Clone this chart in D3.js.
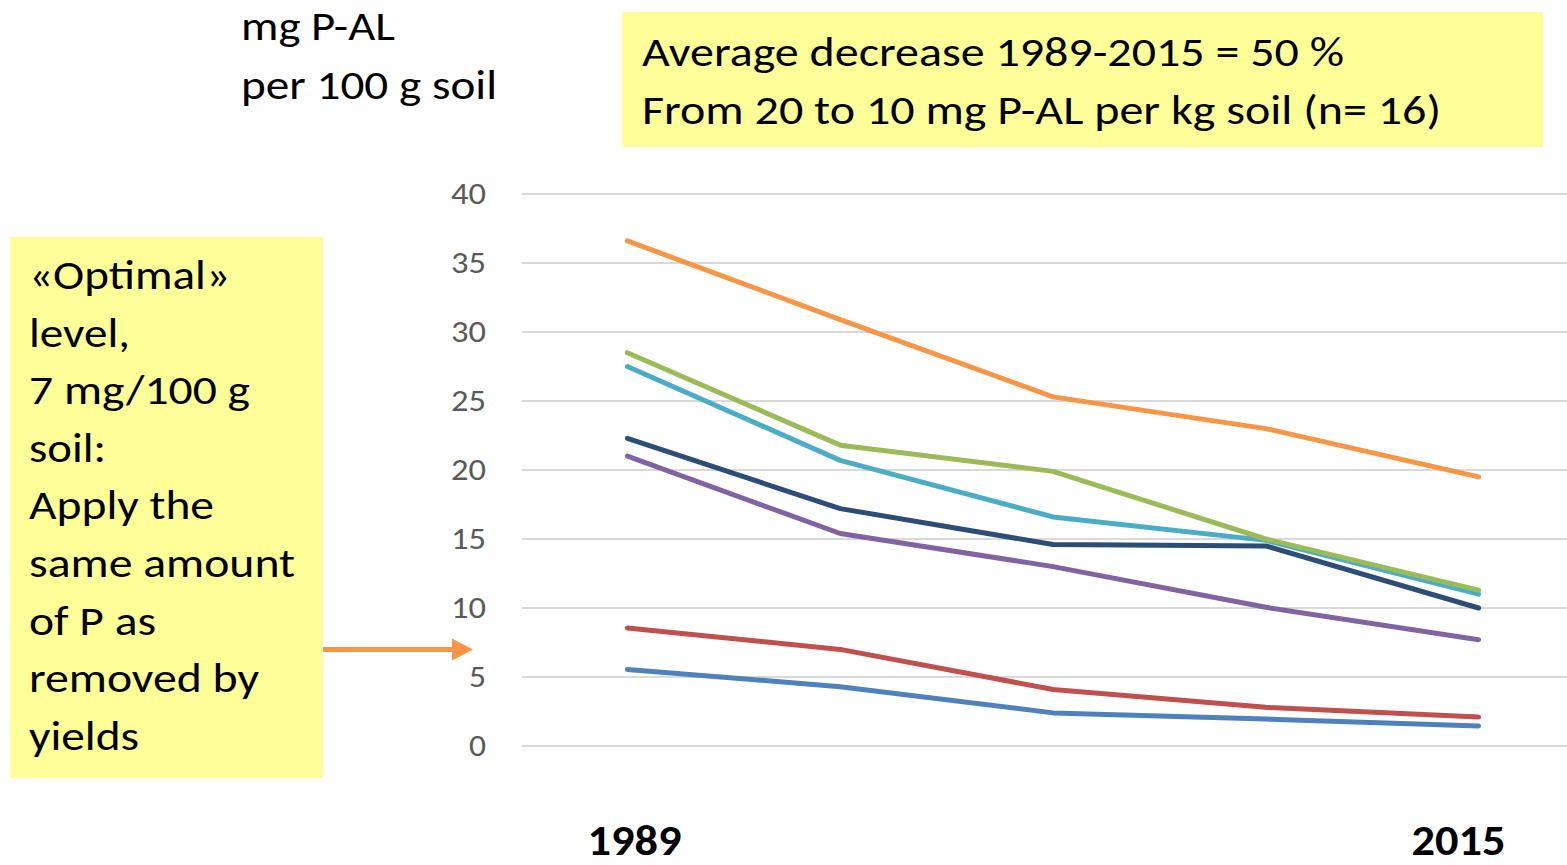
<!DOCTYPE html>
<html>
<head>
<meta charset="utf-8">
<script src="https://cdn.jsdelivr.net/npm/d3@7"></script>
<style>
  html, body { margin: 0; padding: 0; background: #fff; }
  svg { display: block; font-family: Carlito, Calibri, Lato, "Noto Sans", sans-serif; }
</style>
</head>
<body>
<svg id="chart" width="1567" height="865"></svg>
<script>
// Sampling rounds; only the first and last are labelled on the axis
const categories = ["1989", "round 2", "round 3", "round 4", "2015"];
const categoryLabels = ["1989", "", "", "", "2015"];

// mg P-AL per 100 g soil, one series per field group
const seriesOrange = [36.6, 30.9, 25.3, 23.0, 19.5];
const seriesGreen  = [28.5, 21.8, 19.9, 15.0, 11.3];
const seriesTeal   = [27.5, 20.7, 16.6, 14.9, 11.0];
const seriesNavy   = [22.3, 17.2, 14.6, 14.5, 10.0];
const seriesPurple = [21.0, 15.4, 13.0, 10.05, 7.7];
const seriesRed    = [8.55, 7.0, 4.1, 2.8, 2.1];
const seriesBlue   = [5.55, 4.3, 2.4, 1.95, 1.45];

const yTicks = [0, 5, 10, 15, 20, 25, 30, 35, 40];
const optimalLevel = 7;

const series = [
  { values: seriesBlue,   color: "#4F81BD" },
  { values: seriesRed,    color: "#C0504D" },
  { values: seriesPurple, color: "#8064A2" },
  { values: seriesNavy,   color: "#2C4D75" },
  { values: seriesTeal,   color: "#4BACC6" },
  { values: seriesGreen,  color: "#9BBB59" },
  { values: seriesOrange, color: "#F79646" }
];

const svg = d3.select("#chart");

const x = d3.scalePoint().domain(categories).range([521, 1585]).padding(0.5);
const y = d3.scaleLinear().domain([0, 40]).range([746, 194]);

// Horizontal gridlines
svg.append("g")
  .selectAll("line")
  .data(yTicks)
  .join("line")
  .attr("x1", 522).attr("x2", 1567)
  .attr("y1", d => y(d)).attr("y2", d => y(d))
  .attr("stroke", "#D9D9D9").attr("stroke-width", 2);

// Value axis labels
const yAxis = d3.axisLeft(y).tickValues(yTicks).tickSize(0).tickPadding(0);
const yAxisG = svg.append("g").attr("transform", "translate(486,0)").call(yAxis);
yAxisG.select(".domain").remove();
yAxisG.selectAll("text")
  .attr("font-family", "Carlito, Calibri, Lato, 'Noto Sans', sans-serif")
  .attr("font-size", 31)
  .attr("fill", "#595959")
  .attr("dy", "0.3em")
  .each(function (d) {
    const w = String(d).length === 1 ? 17 : 35;
    d3.select(this).attr("textLength", w).attr("lengthAdjust", "spacingAndGlyphs");
  });

// Category labels (first and last rounds)
svg.append("g")
  .selectAll("text")
  .data(categories.filter((c, i) => categoryLabels[i] !== ""))
  .join("text")
  .attr("x", (d, i) => x(d) + (i === 0 ? 7 : -20))
  .attr("y", 855)
  .attr("text-anchor", "middle")
  .attr("font-size", 42)
  .attr("font-weight", "bold")
  .attr("fill", "#000")
  .attr("textLength", 94)
  .attr("lengthAdjust", "spacingAndGlyphs")
  .text(d => categoryLabels[categories.indexOf(d)]);

// Series lines
const line = d3.line()
  .x((d, i) => x(categories[i]))
  .y(d => y(d));

svg.append("g")
  .selectAll("path")
  .data(series)
  .join("path")
  .attr("d", d => line(d.values))
  .attr("fill", "none")
  .attr("stroke", d => d.color)
  .attr("stroke-width", 5)
  .attr("stroke-linecap", "round")
  .attr("stroke-linejoin", "round");

// Unit label
const unit = svg.append("g").attr("font-size", 40).attr("fill", "#000");
unit.append("text").attr("x", 241).attr("y", 40)
  .attr("textLength", 154).attr("lengthAdjust", "spacingAndGlyphs").text("mg P-AL");
unit.append("text").attr("x", 241).attr("y", 99)
  .attr("textLength", 256).attr("lengthAdjust", "spacingAndGlyphs").text("per 100 g soil");

// Summary box
svg.append("rect")
  .attr("x", 622).attr("y", 12).attr("width", 921).attr("height", 135)
  .attr("fill", "#FFFF99");
const summary = svg.append("g").attr("font-size", 40).attr("fill", "#000");
summary.append("text").attr("x", 642).attr("y", 66)
  .attr("textLength", 702).attr("lengthAdjust", "spacingAndGlyphs")
  .text("Average decrease 1989-2015 = 50 %");
summary.append("text").attr("x", 642).attr("y", 124)
  .attr("textLength", 799).attr("lengthAdjust", "spacingAndGlyphs")
  .text("From 20 to 10 mg P-AL per kg soil (n= 16)");

// Optimal level note
svg.append("rect")
  .attr("x", 10).attr("y", 237).attr("width", 313).attr("height", 541)
  .attr("fill", "#FFFF99");
const noteLines = [
  ["«Optimal»", 201], ["level,", 101], ["7 mg/100 g", 221], ["soil:", 77],
  ["Apply the", 185], ["same amount", 266], ["of P as", 127], ["removed by", 230], ["yields", 110]
];
const note = svg.append("g").attr("font-size", 40).attr("fill", "#000");
noteLines.forEach(([t, w], i) => {
  note.append("text").attr("x", 29).attr("y", 289 + i * 57.6)
    .attr("textLength", w).attr("lengthAdjust", "spacingAndGlyphs")
    .text(t);
});

// Arrow pointing at the optimal level on the value axis
const arrowY = y(optimalLevel);
svg.append("line")
  .attr("x1", 323).attr("x2", 456)
  .attr("y1", arrowY).attr("y2", arrowY)
  .attr("stroke", "#F79646").attr("stroke-width", 5);
svg.append("path")
  .attr("d", `M452,${arrowY - 11}L473,${arrowY}L452,${arrowY + 11}Z`)
  .attr("fill", "#F79646");
</script>
</body>
</html>
